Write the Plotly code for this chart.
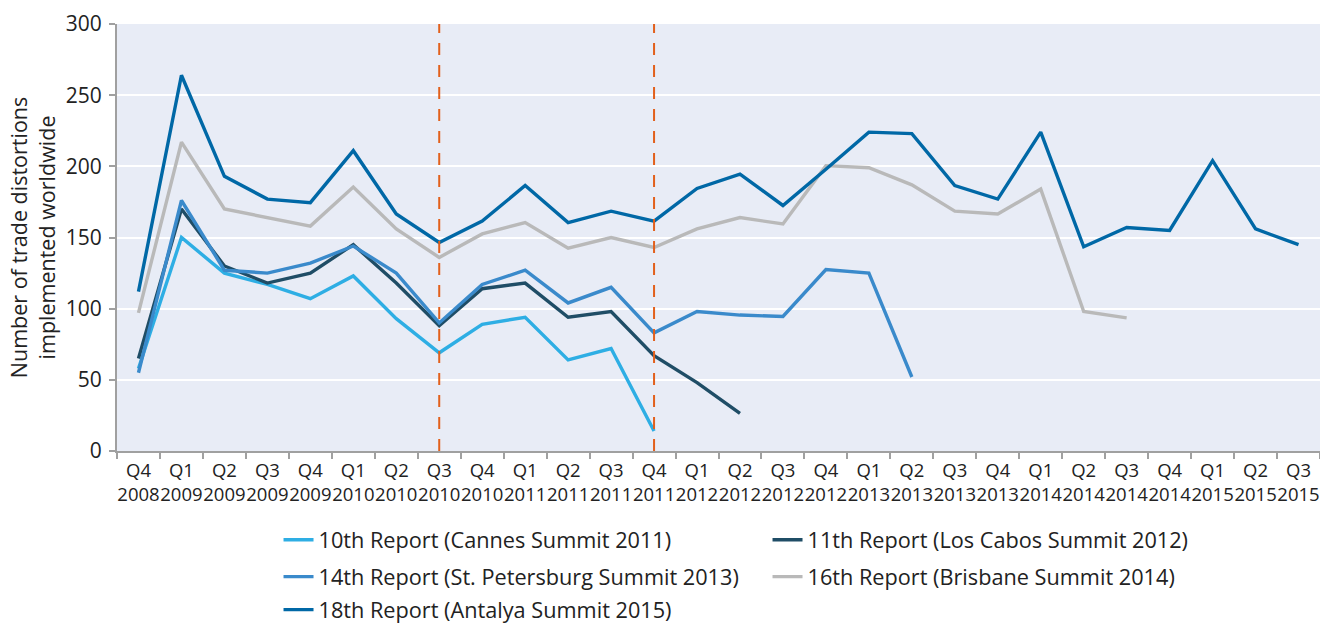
import plotly.graph_objects as go

quarters = ["Q4", "Q1", "Q2", "Q3", "Q4", "Q1", "Q2", "Q3", "Q4", "Q1", "Q2", "Q3", "Q4", "Q1",
            "Q2", "Q3", "Q4", "Q1", "Q2", "Q3", "Q4", "Q1", "Q2", "Q3", "Q4", "Q1", "Q2", "Q3"]
years = ["2008", "2009", "2009", "2009", "2009", "2010", "2010", "2010", "2010", "2011", "2011",
         "2011", "2011", "2012", "2012", "2012", "2012", "2013", "2013", "2013", "2013", "2014",
         "2014", "2014", "2014", "2015", "2015", "2015"]
categories = [f"{q}<br>{y}" for q, y in zip(quarters, years)]

report_10 = [58, 150, 125, 117, 107, 123, 93, 69, 89, 94, 64, 72, 14]
report_11 = [65, 170, 130, 118, 125, 145, 118, 88, 114, 118, 94, 98, 67, 48, 26.5]
report_14 = [55, 176, 127, 125, 132, 144, 125, 90, 117, 127, 104, 115, 83, 98, 95.5, 94.5,
             127.5, 125, 52]
report_16 = [97, 217, 170, 164, 158, 185.5, 156, 136, 152.5, 160.5, 142.5, 150, 143, 156, 164,
             159.5, 200.5, 199, 187, 168.5, 166.5, 184, 98, 93.5]
report_18 = [112, 264, 193, 177, 174.5, 211, 166.5, 146.5, 161.5, 186.5, 160.5, 168.5, 161.5,
             184.5, 194.5, 172.5, 198, 224, 223, 186.5, 177, 224, 143.5, 157, 155, 204, 156, 145]

series_names = ["10th Report (Cannes Summit 2011)", "11th Report (Los Cabos Summit 2012)",
                "14th Report (St. Petersburg Summit 2013)", "16th Report (Brisbane Summit 2014)",
                "18th Report (Antalya Summit 2015)"]
series_values = [report_10, report_11, report_14, report_16, report_18]
series_colors = ["#2EAEE4", "#1F4D66", "#3A8ACB", "#B9B9B9", "#0068A6"]
legend_rows = ["legend", "legend", "legend2", "legend2", "legend3"]

summit_marks = ["Q3<br>2010", "Q4<br>2011"]

FONT = "Open Sans"
fig = go.Figure()
for name, vals, col, lg in zip(series_names, series_values, series_colors, legend_rows):
    fig.add_trace(go.Scatter(
        x=categories[:len(vals)], y=vals, name=name, mode="lines",
        line=dict(color=col, width=3.4), legend=lg,
    ))

for m in summit_marks:
    fig.add_shape(type="line", xref="x", yref="paper", x0=m, x1=m, y0=0, y1=1,
                  line=dict(color="#E2601C", width=2, dash="12px,10px"), layer="above")


def legend_row(ypos):
    return dict(
        orientation="h", xref="container", yref="container",
        x=0.211, y=ypos, xanchor="left", yanchor="top",
        entrywidth=444, entrywidthmode="pixels",
        font=dict(size=21.7, family=FONT, color="#222222"),
        itemwidth=30, bgcolor="rgba(0,0,0,0)",
    )


fig.update_layout(
    width=1320, height=624,
    margin=dict(l=117, r=0, t=24, b=173),
    paper_bgcolor="white",
    plot_bgcolor="#E8ECF6",
    font=dict(family=FONT, color="#222222", size=18),
    showlegend=True,
    legend=legend_row(0.168),
    legend2=legend_row(0.109),
    legend3=legend_row(0.056),
)
fig.update_xaxes(
    type="category", categoryorder="array", categoryarray=categories,
    range=[-0.5, len(categories) - 0.5], automargin=False, tickangle=0,
    showgrid=False, showline=True, linecolor="#A0A0A0", linewidth=2,
    ticks="outside", tickson="boundaries", ticklen=6, tickcolor="#A0A0A0", tickwidth=1.5,
    ticklabelstandoff=2,
    tickfont=dict(size=18.5, family=FONT, color="#222222"),
)
fig.update_yaxes(
    range=[0, 300], dtick=50, showgrid=True, gridcolor="white", gridwidth=2,
    zeroline=False, showline=True, linecolor="#A0A0A0", linewidth=2, automargin=False,
    ticks="outside", ticklen=6, tickcolor="#A0A0A0", tickwidth=1.5,
    ticklabelstandoff=3,
    tickfont=dict(size=21, family=FONT, color="#222222"),
    title=dict(text="Number of trade distortions<br>implemented worldwide",
               font=dict(size=21.5, family=FONT, color="#222222"), standoff=4),
)

fig.write_html(
    "out.html",
    config={"displayModeBar": False},
    post_script="document.body.style.margin='0';document.body.style.overflow='hidden';",
)
